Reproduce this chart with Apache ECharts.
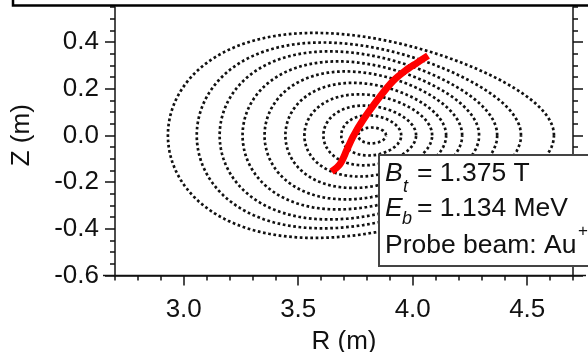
<!DOCTYPE html>
<html><head><meta charset="utf-8">
<script src="https://cdn.jsdelivr.net/npm/echarts@6/dist/echarts.min.js"></script>
<style>html,body{margin:0;padding:0;background:#fff}#c{width:588px;height:352px}</style>
</head><body><div id="c"></div>
<script>
// Axis tick labels
const xTickLabels = [3.0, 3.5, 4.0, 4.5];
const yTickLabels = [-0.6, -0.4, -0.2, 0.0, 0.2, 0.4];
// Flux surfaces (outer to inner): inboard R, outboard R, half height, egg asymmetry
const surfRin  = [2.931, 3.057, 3.157, 3.257, 3.353, 3.444, 3.527, 3.610, 3.688, 3.762];
const surfRout = [4.617, 4.473, 4.369, 4.290, 4.216, 4.146, 4.085, 4.015, 3.950, 3.884];
const surfHalfZ = [0.439, 0.398, 0.360, 0.317, 0.274, 0.225, 0.176, 0.128, 0.086, 0.034];
const surfEgg  = [0.27, 0.25, 0.23, 0.21, 0.19, 0.17, 0.15, 0.13, 0.10, 0.05];
// Probe beam trajectory
const beamR = [3.646, 3.683, 3.712, 3.739, 3.783, 3.857, 3.914, 3.966, 4.019, 4.067];
const beamZ = [-0.155, -0.122, -0.063, -0.006, 0.066, 0.166, 0.233, 0.276, 0.311, 0.342];
// Annotation
const infoLines = ['= 1.375 T', '= 1.134 MeV', 'Probe beam: Au'];

function surface(i) {
  const rin = surfRin[i], rout = surfRout[i], h = surfHalfZ[i], e = surfEgg[i];
  const r0 = (rin + rout) / 2, a = (rout - rin) / 2;
  const N = 240;
  let m = 0;
  for (let k = 0; k <= N; k++) {
    const t = 2 * Math.PI * k / N;
    m = Math.max(m, Math.sin(t) * (1 - e * Math.cos(t)));
  }
  const B = h / m;
  const pts = [];
  for (let k = 0; k <= N; k++) {
    const t = 2 * Math.PI * k / N;
    pts.push([r0 + a * Math.cos(t), B * Math.sin(t) * (1 - e * Math.cos(t))]);
  }
  return pts;
}

const FONT = '"Liberation Sans", Arial, sans-serif';
const TXT = '#111';
const FS = 26;
const BOXFS = 26.5;
const series = [];
for (let i = 0; i < surfRin.length; i++) {
  series.push({
    type: 'line', data: surface(i), showSymbol: false, silent: true,
    lineStyle: { color: '#111', width: 2.7, type: [2.7, 2.6], cap: 'butt' }, z: 2
  });
}
series.push({
  type: 'line', data: beamR.map((r, i) => [r, beamZ[i]]), showSymbol: false, smooth: 0.3,
  lineStyle: { color: '#ff0000', width: 7, cap: 'butt' }, z: 3
});

const axLine = { show: true, onZero: false, lineStyle: { color: '#111', width: 1.5 } };
const chart = echarts.init(document.getElementById('c'), null, { renderer: 'canvas' });
chart.setOption({
  animation: false,
  grid: { left: 115, right: 15, top: 7, bottom: 76.5, outerBoundsMode: 'none', containLabel: false },
  xAxis: [{
    type: 'value', min: 2.7, max: 4.7, position: 'bottom',
    name: 'R (m)', nameLocation: 'middle', nameGap: 53,
    nameTextStyle: { fontSize: FS, fontFamily: FONT, color: TXT },
    axisLine: axLine,
    axisTick: { show: true, length: 10, customValues: xTickLabels, lineStyle: { color: '#111', width: 1.5 } },
    axisLabel: { customValues: xTickLabels, formatter: v => v.toFixed(1), fontSize: FS, fontFamily: FONT, color: TXT, margin: 21 },
    splitLine: { show: false }
  }, {
    type: 'value', min: 2.7, max: 4.7, interval: 0.1, position: 'bottom',
    axisLine: { show: false, onZero: false },
    axisTick: { show: true, length: 5, lineStyle: { color: '#111', width: 1.5 } },
    axisLabel: { show: false }, splitLine: { show: false }
  }],
  yAxis: [{
    type: 'value', min: -0.6, max: 0.55, position: 'left',
    name: 'Z (m)', nameLocation: 'middle', nameGap: 80,
    nameTextStyle: { fontSize: FS, fontFamily: FONT, color: TXT, padding: [0, 0, 0, 12] },
    axisLine: axLine,
    axisTick: { show: true, length: 10, customValues: yTickLabels, lineStyle: { color: '#111', width: 1.5 } },
    axisLabel: { customValues: yTickLabels, formatter: v => v.toFixed(1), fontSize: FS, fontFamily: FONT, color: TXT, margin: 16 },
    splitLine: { show: false }
  }, {
    type: 'value', min: -0.6, max: 0.55, interval: 0.05, position: 'left',
    axisLine: { show: false, onZero: false },
    axisTick: { show: true, length: 5, lineStyle: { color: '#111', width: 1.5 } },
    axisLabel: { show: false }, splitLine: { show: false }
  }, {
    type: 'value', min: -0.6, max: 0.55, position: 'right',
    axisLine: axLine,
    axisTick: { show: true, length: 10, customValues: yTickLabels, lineStyle: { color: '#111', width: 1.5 } },
    axisLabel: { show: false }, splitLine: { show: false }
  }, {
    type: 'value', min: -0.6, max: 0.55, interval: 0.05, position: 'right',
    axisLine: { show: false, onZero: false },
    axisTick: { show: true, length: 5, lineStyle: { color: '#111', width: 1.5 } },
    axisLabel: { show: false }, splitLine: { show: false }
  }],
  series: series,
  graphic: [
    { type: 'rect', shape: { x: 13, y: -60, width: 700, height: 65.5 }, style: { fill: 'none', stroke: '#000', lineWidth: 2.5 }, z: 20 },
    { type: 'line', shape: { x1: 103, y1: 275.5, x2: 586, y2: 275.5 }, style: { stroke: '#111', lineWidth: 1.5 }, z: 20 },
    { type: 'rect', shape: { x: 379, y: 155, width: 300, height: 111 }, style: { fill: '#fff', stroke: '#444', lineWidth: 2 }, z: 30 },
    { type: 'text', x: 385, y: 174, style: { text: 'B', font: 'italic ' + BOXFS + 'px ' + FONT, fill: TXT, verticalAlign: 'middle' }, z: 31 },
    { type: 'text', x: 403, y: 187, style: { text: 't', font: 'italic 18px ' + FONT, fill: TXT, verticalAlign: 'middle' }, z: 31 },
    { type: 'text', x: 417, y: 174, style: { text: infoLines[0], font: BOXFS + 'px ' + FONT, fill: TXT, verticalAlign: 'middle' }, z: 31 },
    { type: 'text', x: 385, y: 209, style: { text: 'E', font: 'italic ' + BOXFS + 'px ' + FONT, fill: TXT, verticalAlign: 'middle' }, z: 31 },
    { type: 'text', x: 402, y: 219, style: { text: 'b', font: 'italic 18px ' + FONT, fill: TXT, verticalAlign: 'middle' }, z: 31 },
    { type: 'text', x: 417, y: 209, style: { text: infoLines[1], font: BOXFS + 'px ' + FONT, fill: TXT, verticalAlign: 'middle' }, z: 31 },
    { type: 'text', x: 385, y: 246, style: { text: infoLines[2], font: BOXFS + 'px ' + FONT, fill: TXT, verticalAlign: 'middle' }, z: 31 },
    { type: 'text', x: 578, y: 231, style: { text: '+', font: '17px ' + FONT, fill: TXT, verticalAlign: 'middle' }, z: 31 }
  ]
});
</script>
</body></html>
